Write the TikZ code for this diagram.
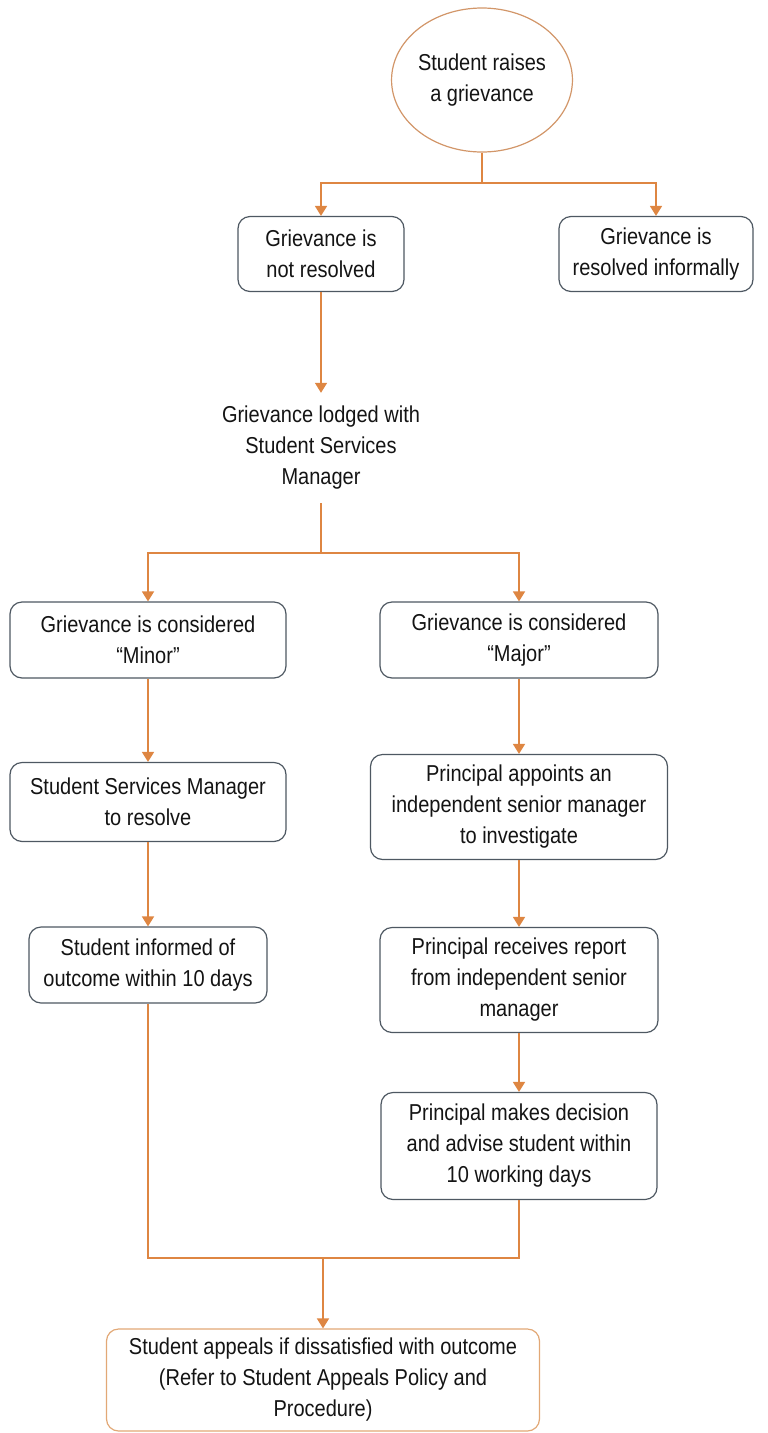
\documentclass[tikz,border=0pt]{standalone}
\usepackage{fontspec}
\setmainfont{Liberation Sans}[FakeStretch=0.87]
\usetikzlibrary{shapes.geometric,arrows.meta}
\definecolor{flowline}{RGB}{222,134,66}
\definecolor{boxline}{RGB}{78,88,98}
\definecolor{ovalline}{RGB}{210,150,105}
\definecolor{appealline}{RGB}{226,168,118}
\definecolor{inktext}{RGB}{20,20,20}
\begin{document}
\begin{tikzpicture}
        [
            x=1pt, y=-1pt,
            every node/.style={font=\fontsize{23}{31}\selectfont, text=inktext, align=center, inner sep=0pt},
            card/.style={draw=boxline, line width=1.2pt, rounded corners=12pt, fill=white},
            appealcard/.style={card, draw=appealline},
            startoval/.style={ellipse, draw=ovalline, line width=1.2pt, minimum width=172pt, minimum height=144pt},
            flow/.style={draw=flowline, line width=1.6pt},
            flowarrow/.style={flow, -{Triangle[width=12pt,length=10pt]}}
        ]
        \useasboundingbox (0,0) rectangle (768,1433);

        \node[startoval] (raise) at (482,80) {Student raises\\a grievance};
        \node[card, minimum width=166pt, minimum height=75pt] (notres) at (321,254) {Grievance is\\not resolved};
        \node[card, minimum width=194pt, minimum height=75pt] (informal) at (656,254) {Grievance is\\resolved informally};
        \node[minimum height=110pt] (lodged) at (321,448) {Grievance lodged with\\Student Services\\Manager};

        \node[card, minimum width=276pt, minimum height=76pt] (minor) at (148,640) {Grievance is considered\\“Minor”};
        \node[card, minimum width=276pt, minimum height=79pt] (ssm) at (148,802) {Student Services Manager\\to resolve};
        \node[card, minimum width=238pt, minimum height=76pt] (informed) at (148,965) {Student informed of\\outcome within 10 days};

        \node[card, minimum width=278pt, minimum height=76pt] (major) at (519,640) {Grievance is considered\\“Major”};
        \node[card, minimum width=297pt, minimum height=105pt] (appoints) at (519,807) {Principal appoints an\\independent senior manager\\to investigate};
        \node[card, minimum width=278pt, minimum height=105pt] (receives) at (519,980) {Principal receives report\\from independent senior\\manager};
        \node[card, minimum width=276pt, minimum height=107pt] (decision) at (519,1146) {Principal makes decision\\and advise student within\\10 working days};

        \node[appealcard, minimum width=433pt, minimum height=102pt] (appeal) at (323,1380) {Student appeals if dissatisfied with outcome\\(Refer to Student Appeals Policy and\\Procedure)};

        \coordinate (split1) at (482,183);
        \coordinate (split2) at (321,553);
        \coordinate (merge) at (323,1258);

        % first split
        \draw[flow] (raise) -- (split1);
        \draw[flowarrow] (split1) -| (notres);
        \draw[flowarrow] (split1) -| (informal);
        \draw[flowarrow] (notres) -- (lodged);

        % minor / major
        \draw[flow] (lodged) -- (split2);
        \draw[flowarrow] (split2) -| (minor);
        \draw[flowarrow] (split2) -| (major);
        \draw[flowarrow] (minor) -- (ssm);
        \draw[flowarrow] (ssm) -- (informed);
        \draw[flowarrow] (major) -- (appoints);
        \draw[flowarrow] (appoints) -- (receives);
        \draw[flowarrow] (receives) -- (decision);

        % both ways end in the appeal
        \draw[flow] (informed) |- (merge) -| (decision);
        \draw[flowarrow] (merge) -- (appeal);
    \end{tikzpicture}
\end{document}
